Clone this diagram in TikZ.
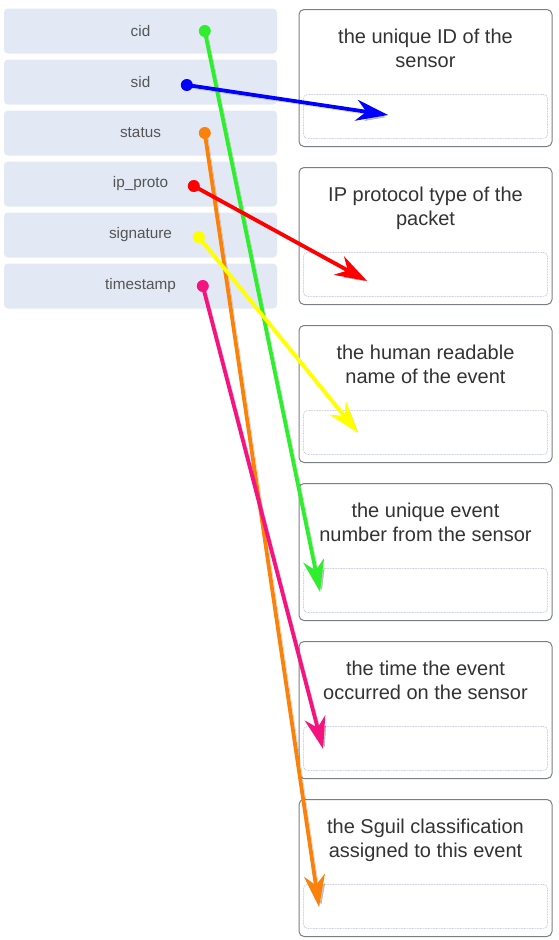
\documentclass[tikz,border=0pt]{standalone}
\usepackage{fontspec}
\setmainfont{Liberation Sans}
\usetikzlibrary{arrows.meta, calc, positioning}
\definecolor{termfill}{HTML}{E2E9F4}
\definecolor{termtext}{HTML}{555555}
\definecolor{cardframe}{HTML}{7A7F86}
\definecolor{cardtext}{HTML}{333333}
\definecolor{slotframe}{HTML}{C6C8E6}
\definecolor{cidcol}{HTML}{2EEE2E}
\definecolor{sidcol}{HTML}{0000FF}
\definecolor{statuscol}{HTML}{FA820A}
\definecolor{protocol}{HTML}{FF0000}
\definecolor{sigcol}{HTML}{FFFF00}
\definecolor{timecol}{HTML}{F5137F}

\begin{document}
\begin{tikzpicture}[x=1pt, y=-1pt,
    term/.style={fill=termfill, rounded corners=4pt, minimum width=273pt,
      minimum height=45pt, text=termtext, font=\fontsize{15.3}{18}\selectfont},
    card/.style={draw=cardframe, line width=1pt, rounded corners=5pt,
      minimum width=253pt, minimum height=137pt, anchor=north},
    slot/.style={draw=slotframe, line width=.8pt, dash pattern=on .8pt off .8pt,
      rounded corners=4pt, minimum width=244pt, minimum height=44pt, anchor=north},
    wire/.style={draw=#1, line width=3.8pt,
      -{Stealth[length=32pt, width=21pt, inset=10pt]},
      preaction={draw=black, opacity=.22, transform canvas={shift={(3pt,-3pt)}}}},
    pin/.style={circle, fill=#1, inner sep=0pt, minimum size=12pt}]

  \useasboundingbox[fill=white] (0,0) rectangle (558,940);

  % Begriffe links
  \foreach \name/\label [count=\i from 0] in
      {cid/cid, sid/sid, status/status, proto/ip\_proto, sig/signature, time/timestamp}
    \node[term] (\name) at (140.5, 31+51*\i) {\label};

  % Beschreibungen rechts, jeweils mit Ablagefeld
  \foreach \txt [count=\i] in
      {{the unique ID of the\\sensor},
       {IP protocol type of the\\packet},
       {the human readable\\name of the event},
       {the unique event\\number from the sensor},
       {the time the event\\occurred on the sensor},
       {the Sguil classification\\assigned to this event}}{
    \node[card] (card\i) at (425.5, 9+158*\i-158) {};
    \node[anchor=north, align=center, inner sep=0pt, text=cardtext,
      font=\fontsize{20}{24}\selectfont] (txt\i) at ($(card\i.north)+(0,20)$) {\txt};
    \node[slot] (slot\i) at ($(card\i.north)+(0,85)$) {};
  }

  % Start- und Zielpunkte
  \coordinate (cid-pin)    at ($(cid.west)+(201,0)$);
  \coordinate (sid-pin)    at ($(sid.west)+(183,3)$);
  \coordinate (status-pin) at ($(status.west)+(201,0)$);
  \coordinate (proto-pin)  at ($(proto.west)+(190,2)$);
  \coordinate (sig-pin)    at ($(sig.west)+(195,2)$);
  \coordinate (time-pin)   at ($(time.west)+(199,0)$);

  \coordinate (sid-end)    at ($(slot1.north west)+(85,21)$);
  \coordinate (proto-end)  at ($(slot2.north west)+(64,29)$);
  \coordinate (sig-end)    at ($(slot3.north west)+(55,23)$);
  \coordinate (cid-end)    at ($(slot4.north west)+(17,24)$);
  \coordinate (time-end)   at ($(slot5.north west)+(20,23)$);
  \coordinate (status-end) at ($(slot6.north west)+(16,23)$);

  % Zuordnungen
  \foreach \name/\col in {cid/cidcol, sid/sidcol, status/statuscol,
                          proto/protocol, sig/sigcol, time/timecol}{
    \draw[wire=\col] (\name-pin) -- (\name-end);
    \node[pin=\col] (\name-dot) at (\name-pin) {};
  }
\end{tikzpicture}
\end{document}
